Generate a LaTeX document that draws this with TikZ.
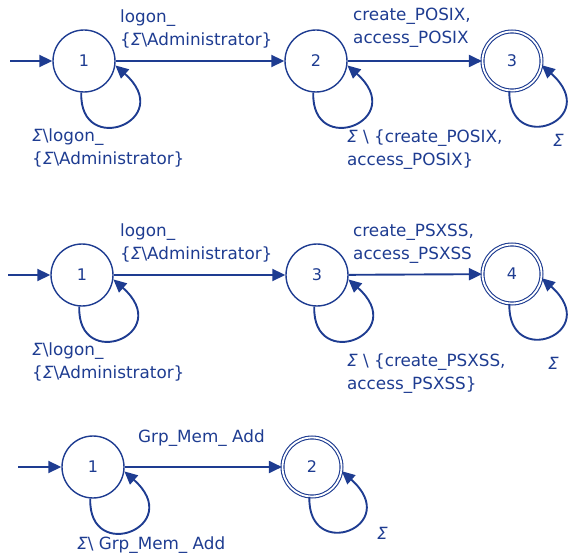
\documentclass[tikz,border=0pt]{standalone}
\usepackage{fontspec}
\setmainfont{DejaVu Sans}
\usetikzlibrary{arrows.meta}
\definecolor{fsm}{RGB}{30,60,145}
\newcommand\sig{{\itshape Σ}}
\begin{document}
\begin{tikzpicture}[x=1pt,y=-1pt,
  every node/.style={text=fsm},
  state/.style={circle,draw=fsm,line width=1.4pt,minimum size=62pt,inner sep=0pt,font=\fontsize{16}{18}\selectfont},
  accept/.style={state,double=white,double distance=1.8pt,line width=1.1pt,minimum size=59pt},
  trans/.style={draw=fsm,line width=1.9pt,-{Triangle[length=13pt,width=12pt]}},
  lab/.style={anchor=north west,inner sep=0pt,align=left,font=\fontsize{16.8}{23}\selectfont}]
\useasboundingbox (0,0) rectangle (574,559);
\newcommand\selfloop[1]{\draw[trans] (#1.-95) .. controls +(-2,66) and +(62,55) .. (#1.-8);}
% row 1
\node[state] (s1) at (84,61) {1};
\node[state] (s2) at (316,61) {2};
\node[accept] (s3) at (512,61) {3};
\coordinate (i1) at (10,61);
\draw[trans] (i1) -- (s1);
\draw[trans] (s1) -- (s2);
\draw[trans] (s2) -- (s3);
\selfloop{s1}\selfloop{s2}\selfloop{s3}
\node[lab] (l1) at (120,10) {logon\_\\\{\sig\textbackslash Administrator\}};
\node[lab] (l2) at (32,129) {\sig\textbackslash logon\_\\\{\sig\textbackslash Administrator\}};
\node[lab] (l3) at (353,8) {create\_POSIX,\\access\_POSIX};
\node[lab] (l4) at (347,130) {\sig\ \textbackslash\ \{create\_POSIX,\\access\_POSIX\}};
\node[lab] (l5) at (553,134) {\sig};
% row 2
\node[state] (r1) at (82,275) {1};
\node[state] (r3) at (317,275) {3};
\node[accept] (r4) at (512,274) {4};
\coordinate (i2) at (8,275);
\draw[trans] (i2) -- (r1);
\draw[trans] (r1) -- (r3);
\draw[trans] (r3) -- (r4);
\selfloop{r1}\selfloop{r3}\selfloop{r4}
\node[lab] (m1) at (120,224) {logon\_\\\{\sig\textbackslash Administrator\}};
\node[lab] (m2) at (32,343) {\sig\textbackslash logon\_\\\{\sig\textbackslash Administrator\}};
\node[lab] (m3) at (353,224) {create\_PSXSS,\\access\_PSXSS};
\node[lab] (m4) at (347,354) {\sig\ \textbackslash\ \{create\_PSXSS,\\access\_PSXSS\}};
\node[lab] (m5) at (548,357) {\sig};
% row 3
\node[state] (t1) at (93,467) {1};
\node[accept] (t2) at (312,467) {2};
\coordinate (i3) at (18,467);
\draw[trans] (i3) -- (t1);
\draw[trans] (t1) -- (t2);
\selfloop{t1}\selfloop{t2}
\node[lab] (n1) at (138,430) {Grp\_Mem\_ Add};
\node[lab] (n2) at (77,537) {\sig\textbackslash\ Grp\_Mem\_ Add};
\node[lab] (n3) at (377,527) {\sig};
\end{tikzpicture}
\end{document}
